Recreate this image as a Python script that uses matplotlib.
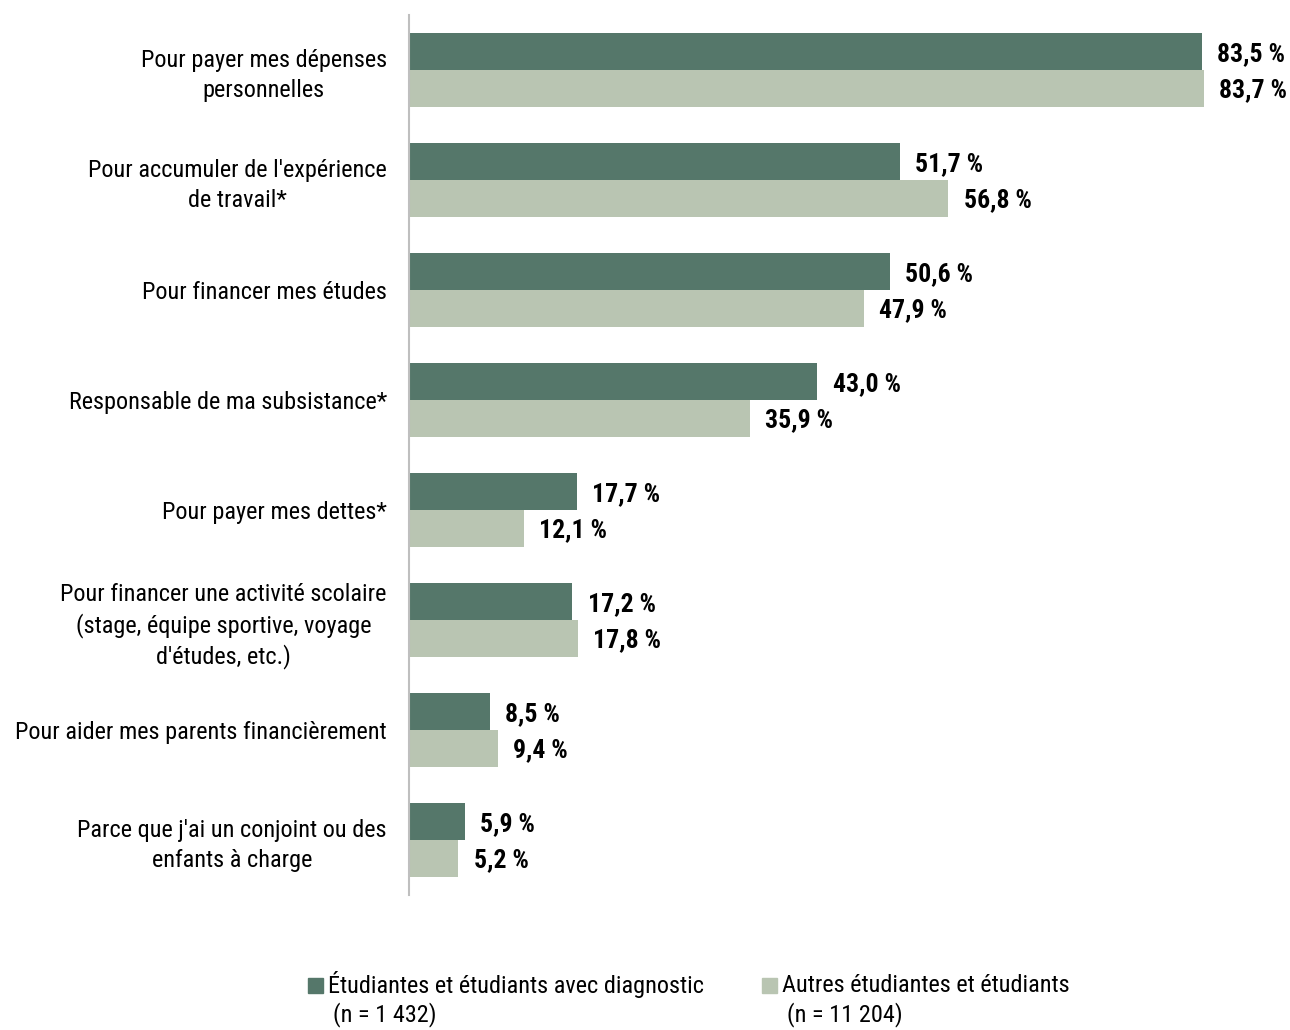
import matplotlib.pyplot as plt
from matplotlib.patches import Rectangle
import numpy as np
import logging

# quiet the findfont warnings for narrow families that may be absent
logging.getLogger('matplotlib.font_manager').setLevel(logging.ERROR)
plt.rcParams['font.family'] = ['Liberation Sans Narrow', 'Arial Narrow', 'Roboto Condensed',
                               'Liberation Sans', 'DejaVu Sans']

categories = [
    "Pour payer mes dépenses\npersonnelles",
    "Pour accumuler de l'expérience\nde travail*",
    "Pour financer mes études",
    "Responsable de ma subsistance*",
    "Pour payer mes dettes*",
    "Pour financer une activité scolaire\n(stage, équipe sportive, voyage\nd'études, etc.)",
    "Pour aider mes parents financièrement",
    "Parce que j'ai un conjoint ou des\nenfants à charge",
]
avec_diag = [83.5, 51.7, 50.6, 43.0, 17.7, 17.2, 8.5, 5.9]
autres = [83.7, 56.8, 47.9, 35.9, 12.1, 17.8, 9.4, 5.2]
series_names = ["Étudiantes et étudiants avec diagnostic", "Autres étudiantes et étudiants"]
series_n = ["(n = 1 432)", "(n = 11 204)"]

dark = '#55776a'
light = '#b9c5b2'
fs = 17.5
W, H = 1290, 1030

fig = plt.figure(figsize=(W / 100, H / 100), dpi=100)
ax = fig.add_axes([409 / W, 1 - 895 / H, 881 / W, 880 / H])

y = np.arange(len(categories))
h = 0.335
ax.barh(y - h / 2, avec_diag, height=h, color=dark)
ax.barh(y + h / 2, autres, height=h, color=light)

def fmt(v):
    return f"{v:.1f} %".replace('.', ',')

for i in range(len(categories)):
    ax.text(avec_diag[i] + 1.6, y[i] - h / 2 + 0.02, fmt(avec_diag[i]), va='center', ha='left',
            fontsize=18.5, fontweight='bold')
    ax.text(autres[i] + 1.6, y[i] + h / 2 + 0.02, fmt(autres[i]), va='center', ha='left',
            fontsize=18.5, fontweight='bold')

ax.set_ylim(len(categories) - 0.5, -0.5)
ax.set_xlim(0, 881 / 9.497)
ax.set_yticks(y)
ax.set_yticklabels(categories, fontsize=fs, linespacing=1.35, multialignment='center')
ax.tick_params(axis='y', length=0, pad=16)
ax.set_xticks([])
for s in ['top', 'right', 'bottom']:
    ax.spines[s].set_visible(False)
ax.spines['left'].set_color('#bfbfbf')
ax.spines['left'].set_linewidth(1.5)

# legend drawn by hand: square, name, sample size on a second line
for x0, color, name, n in zip([308, 762], [dark, light], series_names, series_n):
    fig.patches.append(Rectangle((x0 / W, 1 - 993 / H), 15 / W, 15 / H,
                                 transform=fig.transFigure, color=color))
    fig.text((x0 + 20) / W, 1 - 985 / H, name, va='center', ha='left', fontsize=fs)
    fig.text((x0 + 25) / W, 1 - 1015 / H, n, va='center', ha='left', fontsize=fs)

fig.savefig('out.png', dpi=100)
